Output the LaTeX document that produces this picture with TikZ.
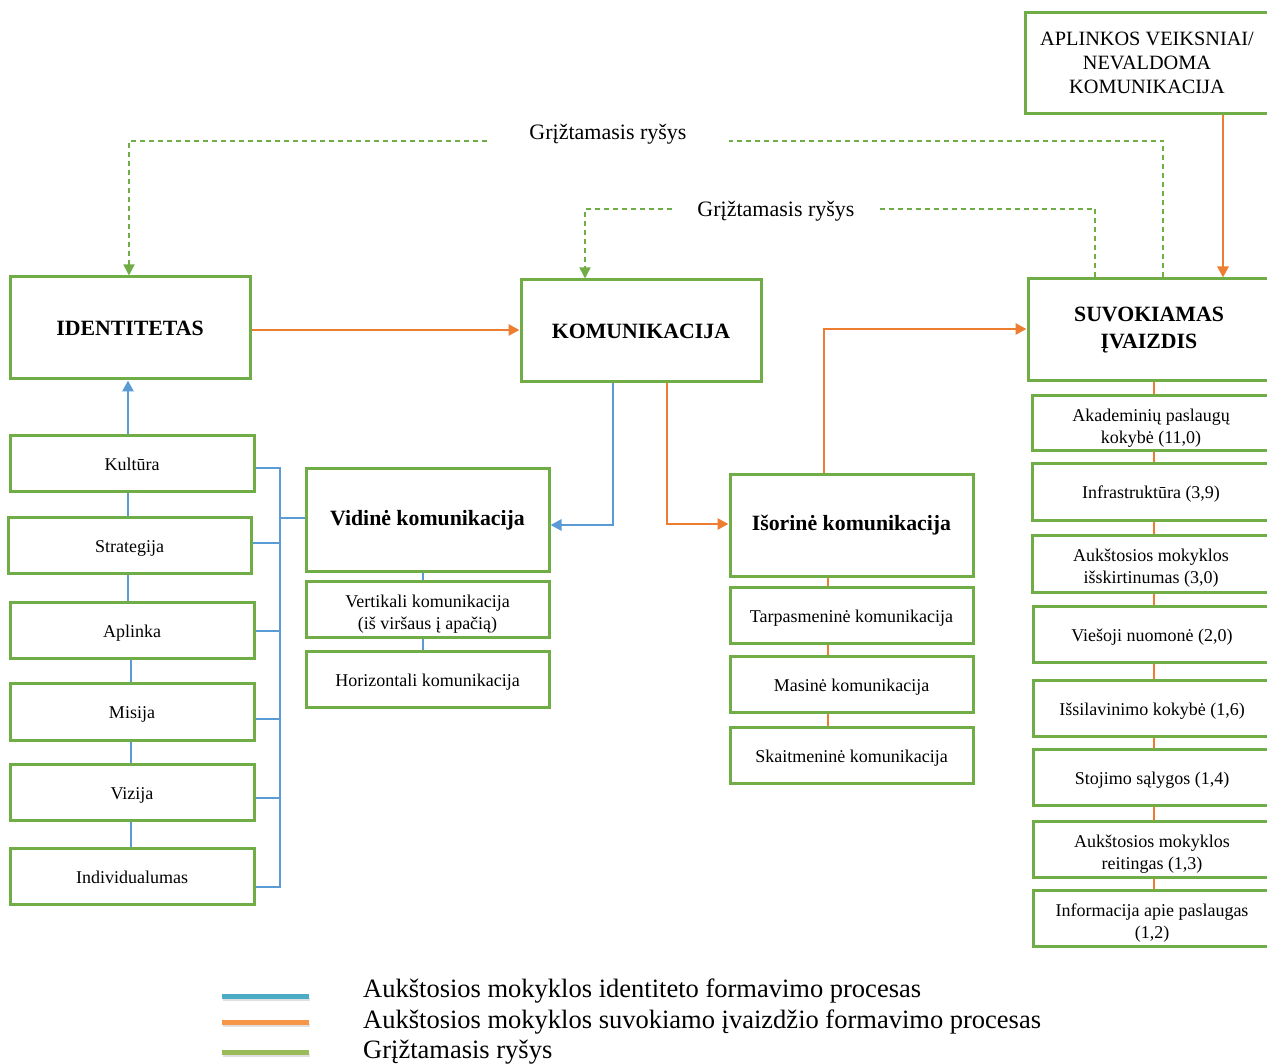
\documentclass[tikz,border=0pt]{standalone}
\usepackage{fontspec}
\setmainfont{Liberation Serif}
\usetikzlibrary{arrows.meta}
\definecolor{boxgreen}{RGB}{112,173,71}
\definecolor{lineblue}{RGB}{91,155,213}
\definecolor{lineorange}{RGB}{237,125,49}
\definecolor{legblue}{RGB}{75,172,198}
\definecolor{legorange}{RGB}{247,150,70}
\definecolor{leggreen}{RGB}{155,187,89}
% taller first line, so the text sits a little below the box centre
\newcommand\toplinestrut{\rule{0pt}{22.5pt}}
\begin{document}
\begin{tikzpicture}[x=1pt,y=-1pt,
  box/.style={draw=boxgreen, line width=3pt, fill=white, align=center, inner sep=0pt, text=black},
  bigbox/.style={box, minimum height=102pt, font=\fontsize{21.8}{27}\selectfont\bfseries},
  smallbox/.style={box, minimum height=56pt, font=\fontsize{18}{22}\selectfont},
  oneline/.style={text height=18.5pt, text depth=4.5pt},
  bline/.style={draw=lineblue, line width=2.8pt},
  oline/.style={draw=lineorange, line width=2.8pt},
  fbline/.style={draw=boxgreen, line width=1.4pt, dash pattern=on 5pt off 4pt},
  headed/.style={-{Triangle[length=11pt,width=11pt]}},
  fblabel/.style={font=\fontsize{22}{26}\selectfont, inner ysep=0pt},
  legswatch/.style={line width=5pt},
  legtext/.style={anchor=west, inner sep=0pt, font=\fontsize{26.5}{30}\selectfont}
]
\useasboundingbox (0,0) rectangle (1267,1064);

% main blocks
\node[bigbox, minimum width=240pt] (ident) at (130,328) {IDENTITETAS};
\node[bigbox, minimum width=240pt] (komu) at (641,331) {KOMUNIKACIJA};
\node[bigbox, minimum width=242pt] (suv) at (1149,330) {SUVOKIAMAS\\ĮVAIZDIS};
\node[box, minimum width=244pt, minimum height=101pt, font=\fontsize{20.3}{24}\selectfont] (aplink) at (1147,63) {APLINKOS VEIKSNIAI/\\NEVALDOMA\\KOMUNIKACIJA};

% identity elements
\node[smallbox, oneline, minimum width=244pt] (kult) at (132,464) {Kultūra};
\node[smallbox, oneline, minimum width=243pt] (strat) at (129.5,545) {Strategija};
\node[smallbox, oneline, minimum width=244pt] (aplinka) at (132,630) {Aplinka};
\node[smallbox, oneline, minimum width=244pt, minimum height=57pt] (misija) at (132,711.5) {Misija};
\node[smallbox, oneline, minimum width=244pt] (vizija) at (132,792) {Vizija};
\node[smallbox, oneline, minimum width=244pt] (indiv) at (132,876) {Individualumas};

% internal communication
\node[bigbox, minimum width=243pt] (vid) at (427.5,520) {Vidinė komunikacija};
\node[smallbox, minimum width=243pt] (vert) at (427.5,609) {\toplinestrut Vertikali komunikacija\\(iš viršaus į apačią)};
\node[smallbox, oneline, minimum width=243pt] (horiz) at (427.5,679) {Horizontali komunikacija};

% external communication
\node[bigbox, minimum width=243pt, minimum height=101pt] (isor) at (851.5,525.5) {Išorinė komunikacija};
\node[smallbox, oneline, minimum width=243pt] (tarp) at (851.5,615) {Tarpasmeninė komunikacija};
\node[smallbox, oneline, minimum width=243pt] (mas) at (851.5,684) {Masinė komunikacija};
\node[smallbox, oneline, minimum width=243pt] (skait) at (851.5,755) {Skaitmeninė komunikacija};

% perceived image factors
\node[smallbox, minimum width=238pt, minimum height=55pt] (akad) at (1151,423.5) {\toplinestrut Akademinių paslaugų\\kokybė (11,0)};
\node[smallbox, oneline, minimum width=238pt] (infra) at (1151,492) {Infrastruktūra (3,9)};
\node[smallbox, minimum width=238pt, minimum height=57pt] (iskirt) at (1151,563.5) {\toplinestrut Aukštosios mokyklos\\išskirtinumas (3,0)};
\node[smallbox, oneline, minimum width=238pt] (viesoji) at (1152,634) {Viešoji nuomonė (2,0)};
\node[smallbox, oneline, minimum width=238pt] (issilav) at (1152,708) {Išsilavinimo kokybė (1,6)};
\node[smallbox, oneline, minimum width=238pt] (stoj) at (1152,777) {Stojimo sąlygos (1,4)};
\node[smallbox, minimum width=238pt] (reit) at (1152,849) {\toplinestrut Aukštosios mokyklos\\reitingas (1,3)};
\node[smallbox, minimum width=238pt] (info) at (1152,918) {\toplinestrut Informacija apie paslaugas\\(1,2)};

% reference x positions for vertical runs
\coordinate (lxa) at (128,0);
\coordinate (lxb) at (131,0);
\coordinate (bx) at (280,0);
\coordinate (vx) at (423,0);
\coordinate (ox) at (828,0);
\coordinate (rx) at (1154,0);
\coordinate (ax) at (1223,0);
\coordinate (fa) at (1163,0);
\coordinate (fbx) at (1095,0);
\coordinate (kx) at (585,0);

% identity formation (blue)
\draw[bline, headed] (kult.north -| lxa) -- (ident.south -| lxa);
\draw[bline] (kult.south -| lxa) -- (strat.north -| lxa);
\draw[bline] (strat.south -| lxa) -- (aplinka.north -| lxa);
\draw[bline] (aplinka.south -| lxb) -- (misija.north -| lxb);
\draw[bline] (misija.south -| lxb) -- (vizija.north -| lxb);
\draw[bline] (vizija.south -| lxb) -- (indiv.north -| lxb);
\draw[bline] ([yshift=-4pt]kult.east) -- ([yshift=-4pt]kult.east -| bx) |- ([yshift=-11pt]indiv.east);
\draw[bline] ([yshift=2pt]strat.east) -- ([yshift=2pt]strat.east -| bx);
\draw[bline] ([yshift=-1pt]aplinka.east) -- ([yshift=-1pt]aplinka.east -| bx);
\draw[bline] ([yshift=-7.5pt]misija.east) -- ([yshift=-7.5pt]misija.east -| bx);
\draw[bline] ([yshift=-6pt]vizija.east) -- ([yshift=-6pt]vizija.east -| bx);
\draw[bline] ([yshift=2pt]vid.west -| bx) -- ([yshift=2pt]vid.west);
\draw[bline, headed] ([xshift=-28pt]komu.south) |- ([yshift=-5pt]vid.east);
\draw[bline] (vid.south -| vx) -- (vert.north -| vx);
\draw[bline] (vert.south -| vx) -- (horiz.north -| vx);

% image formation (orange)
\draw[oline, headed] ([yshift=-2pt]ident.east) -- ([yshift=-2pt]ident.east -| komu.west);
\draw[oline, headed] ([xshift=26pt]komu.south) |- ([yshift=1.5pt]isor.west);
\draw[oline, headed] ([xshift=-27.5pt]isor.north) |- ([yshift=1pt]suv.west);
\draw[oline, headed] (aplink.south -| ax) -- (suv.north -| ax);
\draw[oline] (isor.south -| ox) -- (tarp.north -| ox);
\draw[oline] (tarp.south -| ox) -- (mas.north -| ox);
\draw[oline] (mas.south -| ox) -- (skait.north -| ox);
\draw[oline] (suv.south -| rx) -- (akad.north -| rx);
\draw[oline] (akad.south -| rx) -- (infra.north -| rx);
\draw[oline] (infra.south -| rx) -- (iskirt.north -| rx);
\draw[oline] (iskirt.south -| rx) -- (viesoji.north -| rx);
\draw[oline] (viesoji.south -| rx) -- (issilav.north -| rx);
\draw[oline] (issilav.south -| rx) -- (stoj.north -| rx);
\draw[oline] (stoj.south -| rx) -- (reit.north -| rx);
\draw[oline] (reit.south -| rx) -- (info.north -| rx);

% feedback (green dashed)
\node[fblabel, inner xsep=42pt] (fb1) at (608,134) {Grįžtamasis ryšys};
\node[fblabel, inner xsep=25pt] (fb2) at (776,211) {Grįžtamasis ryšys};
\draw[fbline] (suv.north -| fa) |- ([yshift=-7pt]fb1.east);
\draw[fbline, headed] ([yshift=-7pt]fb1.west) -| ([xshift=-1pt]ident.north);
\draw[fbline] (suv.north -| fbx) |- ([yshift=2pt]fb2.east);
\draw[fbline, headed] ([yshift=2pt]fb2.west) -| (komu.north -| kx);

% legend swatches with soft shadows
\foreach \yy/\cc in {996/legblue, 1022/legorange, 1052/leggreen}{
  \fill[black!12] (223,\yy+1.5) rectangle (310,\yy+5);
  \draw[legswatch, \cc] (222,\yy) -- (309,\yy);
}
\node[legtext] (leg1) at (363,991) {Aukštosios mokyklos identiteto formavimo procesas};
\node[legtext] (leg2) at (363,1022) {Aukštosios mokyklos suvokiamo įvaizdžio formavimo procesas};
\node[legtext] (leg3) at (363,1052) {Grįžtamasis ryšys};
\end{tikzpicture}
\end{document}
